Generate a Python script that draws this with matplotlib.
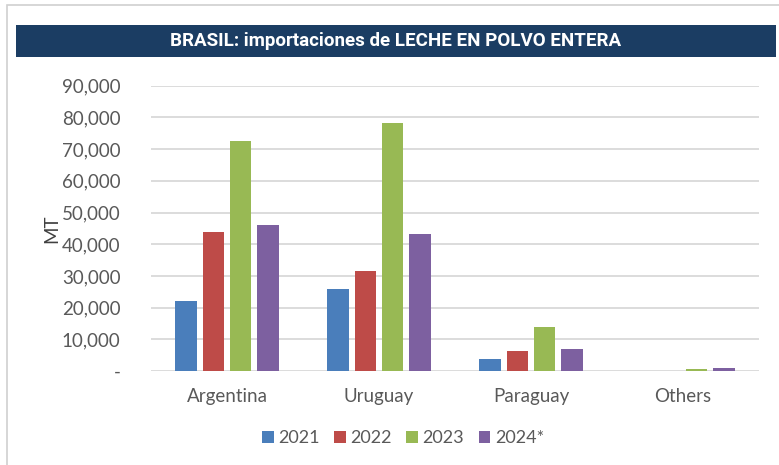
import matplotlib
matplotlib.use("Agg")
import matplotlib.pyplot as plt
import numpy as np
from matplotlib.patches import Rectangle
from matplotlib.ticker import FuncFormatter

categories = ["Argentina", "Uruguay", "Paraguay", "Others"]
series_names = ["2021", "2022", "2023", "2024*"]
v2021 = [22000, 25800, 3900, 0]
v2022 = [44000, 31400, 6200, 0]
v2023 = [72700, 78300, 13900, 500]
v2024 = [46000, 43200, 6900, 900]
colors = ["#4a7ebb", "#be4b48", "#98b954", "#7d60a0"]
title = "BRASIL: importaciones de LECHE EN POLVO ENTERA"
yticks = [0, 10000, 20000, 30000, 40000, 50000, 60000, 70000, 80000, 90000]

W, H = 779, 465
fig = plt.figure(figsize=(W / 100, H / 100), dpi=100)
fig.patch.set_facecolor("white")

# outer frame
fig.add_artist(Rectangle((7 / W, -0.1), 1.2, (H - 5) / H + 0.1, transform=fig.transFigure,
                         fill=False, edgecolor="#d0d0d0", linewidth=1.2))
# title banner
fig.add_artist(Rectangle((16 / W, 1 - 57 / H), (776 - 16) / W, 32 / H, transform=fig.transFigure,
                         facecolor="#1b3d63", edgecolor="none"))
fig.text((16 + 776) / 2 / W, 1 - 41 / H, title, ha="center", va="center", color="white",
         fontsize=13.5, fontweight="bold", family="Roboto")

ax = fig.add_axes([151 / W, 1 - 371 / H, (759 - 151) / W, (371 - 85.7) / H])
x = np.arange(len(categories))
width = 0.141
step = 0.18
all_vals = [v2021, v2022, v2023, v2024]
for i, (vals, name, c) in enumerate(zip(all_vals, series_names, colors)):
    ax.bar(x + (i - 1.5) * step, vals, width, color=c, label=name, zorder=3)

ax.set_xlim(-0.5, 3.5)
ax.set_ylim(0, 90000)
ax.set_yticks(yticks)
ax.yaxis.set_major_formatter(FuncFormatter(lambda v, p: "-" if v == 0 else f"{int(v):,}"))
ax.grid(axis="y", color="#d9d9d9", linewidth=1.3, zorder=0)
ax.set_xticks(x)
ax.set_xticklabels(categories)
for s in ax.spines.values():
    s.set_visible(False)
ax.tick_params(axis="both", length=0, labelsize=13.5, colors="#595959")
ax.tick_params(axis="y", pad=22)
ax.tick_params(axis="x", pad=12)
for lab in ax.get_xticklabels() + ax.get_yticklabels():
    lab.set_family("Lato")
ax.set_ylabel("MT", fontsize=13.5, color="#404040", family="Lato", labelpad=1)

leg = fig.legend(loc="center", bbox_to_anchor=(403 / W, 1 - 438 / H), ncol=4, frameon=False,
                 handlelength=0.65, handleheight=0.65, handletextpad=0.25,
                 columnspacing=0.8, prop={"family": "Lato", "size": 13})
for t in leg.get_texts():
    t.set_color("#595959")

fig.savefig("out.png", dpi=100)
